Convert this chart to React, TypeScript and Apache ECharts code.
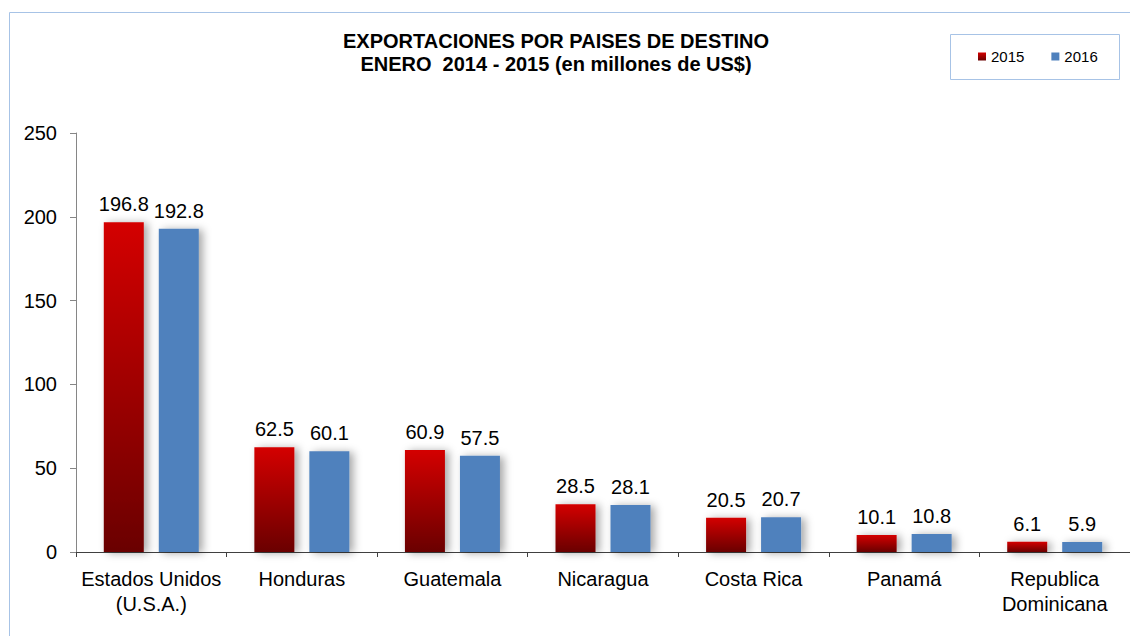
import React, { useEffect, useRef } from "react";
import * as echarts from "echarts";

const categories = [
  "Estados Unidos\n(U.S.A.)",
  "Honduras",
  "Guatemala",
  "Nicaragua",
  "Costa Rica",
  "Panamá",
  "Republica\nDominicana",
];
const seriesNames = ["2015", "2016"];
const values2015 = [196.8, 62.5, 60.9, 28.5, 20.5, 10.1, 6.1];
const values2016 = [192.8, 60.1, 57.5, 28.1, 20.7, 10.8, 5.9];
const titleLines = [
  "EXPORTACIONES POR PAISES DE DESTINO",
  "ENERO  2014 - 2015 (en millones de US$)",
];

const FONT = "'Liberation Sans', Arial, sans-serif";
const FRAME = "#A7C3E6";

export default function App() {
  const ref = useRef<HTMLDivElement>(null);
  useEffect(() => {
    if (!ref.current) return;
    const chart = echarts.init(ref.current, null, { renderer: "svg" });
    const redGrad = new echarts.graphic.LinearGradient(0, 0, 0, 1, [
      { offset: 0, color: "#D40000" },
      { offset: 1, color: "#6A0000" },
    ]);
    const shadow = {
      shadowColor: "rgba(0,0,0,0.35)",
      shadowBlur: 8,
      shadowOffsetX: 4,
      shadowOffsetY: 1,
    };
    const label = {
      show: true,
      position: "top" as const,
      distance: 8,
      color: "#000",
      fontSize: 20,
      fontFamily: FONT,
    };
    chart.setOption({
      animation: false,
      backgroundColor: "#fff",
      textStyle: { fontFamily: FONT },
      graphic: [
        {
          type: "rect",
          shape: { x: 9.5, y: 12.5, width: 1300, height: 800 },
          style: { fill: "none", stroke: FRAME, lineWidth: 1 },
          silent: true,
          z: -10,
        },
        {
          type: "rect",
          shape: { x: 950.5, y: 34.5, width: 169, height: 45 },
          style: { fill: "none", stroke: FRAME, lineWidth: 1 },
          silent: true,
        },
        {
          type: "text",
          x: 556,
          y: 41,
          style: {
            text: titleLines[0],
            fill: "#000",
            font: `bold 20px ${FONT}`,
            textAlign: "center",
            textVerticalAlign: "middle",
          },
        },
        {
          type: "text",
          x: 556,
          y: 64,
          style: {
            text: titleLines[1],
            fill: "#000",
            font: `bold 20px ${FONT}`,
            textAlign: "center",
            textVerticalAlign: "middle",
          },
        },
      ],
      legend: {
        data: seriesNames,
        left: 978,
        top: 49,
        padding: 0,
        itemWidth: 8,
        itemHeight: 8,
        itemGap: 27,
        icon: "rect",
        textStyle: { fontSize: 15, color: "#000", fontFamily: FONT },
      },
      grid: { left: 76, right: -11, top: 133, bottom: 84, containLabel: false },
      xAxis: {
        type: "category",
        data: categories,
        axisLine: { show: true, lineStyle: { color: "#404040", width: 1 } },
        axisTick: { show: true, length: 5, lineStyle: { color: "#404040" } },
        axisLabel: {
          color: "#000",
          fontSize: 20,
          lineHeight: 25,
          margin: 14,
          interval: 0,
          fontFamily: FONT,
        },
      },
      yAxis: {
        type: "value",
        min: 0,
        max: 250,
        interval: 50,
        axisLine: { show: true, lineStyle: { color: "#868686" } },
        axisTick: { show: true, length: 6, lineStyle: { color: "#868686" } },
        axisLabel: { color: "#000", fontSize: 20, margin: 19, fontFamily: FONT },
        splitLine: { show: false },
      },
      series: [
        {
          name: seriesNames[0],
          type: "bar",
          data: values2015,
          barWidth: 40,
          barGap: "37.5%",
          itemStyle: { color: redGrad, ...shadow },
          label,
        },
        {
          name: seriesNames[1],
          type: "bar",
          data: values2016,
          barWidth: 40,
          itemStyle: { color: "#4F81BD", ...shadow },
          label,
        },
      ],
    });
    return () => chart.dispose();
  }, []);
  return (
    <div
      ref={ref}
      style={{ position: "fixed", left: 0, top: 0, width: 1130, height: 636 }}
    />
  );
}
